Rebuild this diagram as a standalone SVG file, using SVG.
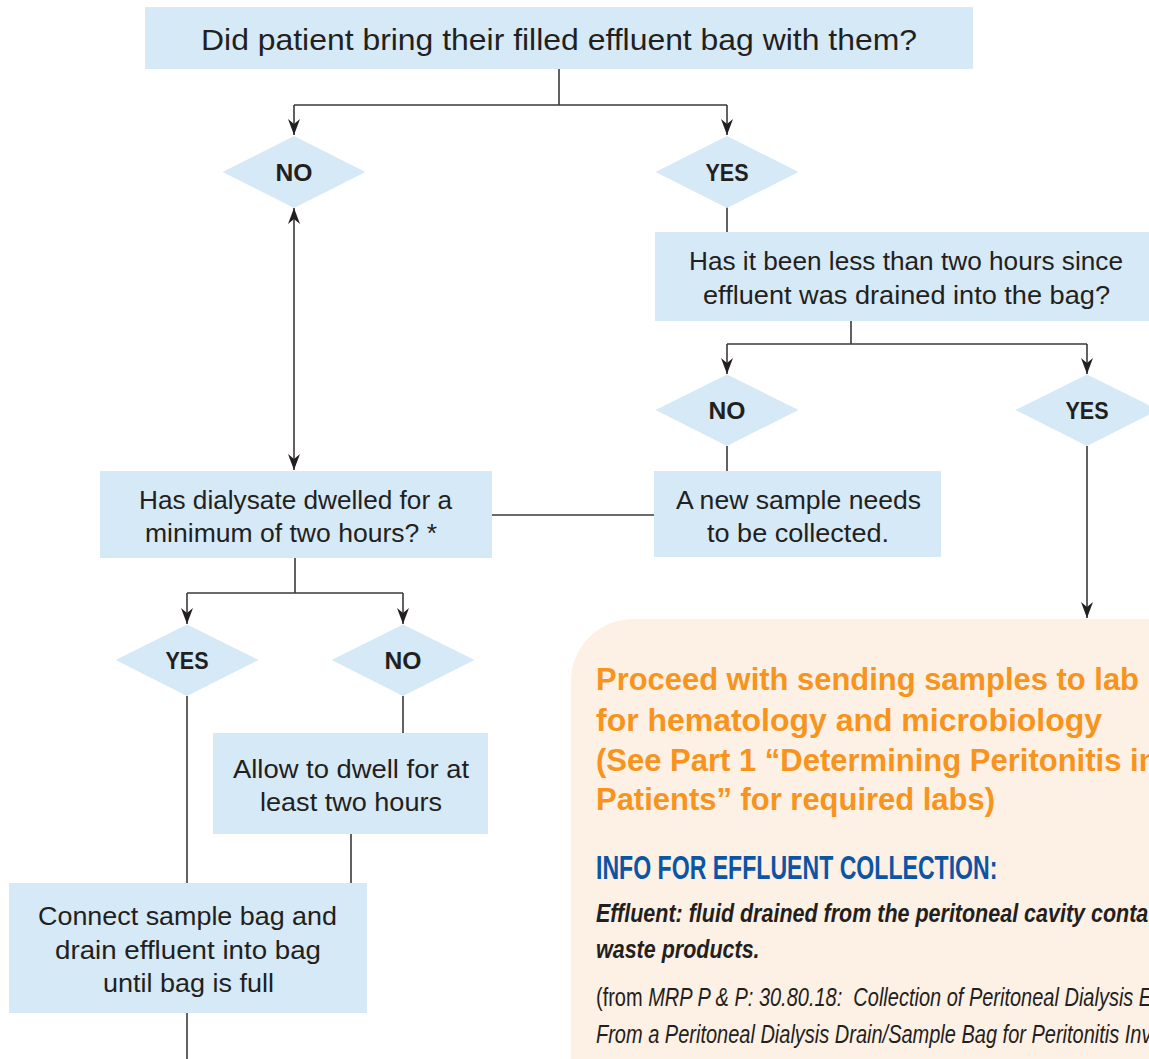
<svg xmlns="http://www.w3.org/2000/svg" width="1149" height="1059" viewBox="0 0 1149 1059">
<style>
.box{fill:#d6e9f7}
.dia{fill:#d6e9f7}
.t{font-family:"Liberation Sans",Arial,sans-serif;font-size:26px;fill:#231f20}
.lbl{font-family:"Liberation Sans",Arial,sans-serif;font-size:24px;font-weight:bold;fill:#231f20;text-anchor:middle}
.con{fill:none;stroke:#3a3a3a;stroke-width:1.6}
.arr{marker-end:url(#ah)}
.or{font-family:"Liberation Sans",Arial,sans-serif;font-size:31px;font-weight:bold;fill:#f7941d}
.hd{font-family:"Liberation Sans",Arial,sans-serif;font-size:33px;font-weight:bold;fill:#0c55a4}
.bi{font-family:"Liberation Sans",Arial,sans-serif;font-size:25px;font-weight:bold;font-style:italic;fill:#231f20}
.it{font-family:"Liberation Sans",Arial,sans-serif;font-size:25px;font-style:italic;fill:#231f20;white-space:pre}
</style>
<defs>
<marker id="ah" viewBox="-16 -6 16 12" refX="0" refY="0" markerWidth="16" markerHeight="12" markerUnits="userSpaceOnUse" orient="auto-start-reverse">
<path d="M0,0 L-16,-6 L-11,0 L-16,6 Z" fill="#231f20"/>
</marker>
</defs>
<rect width="1149" height="1059" fill="#ffffff"/>

<g id="info-panel">
<path d="M571,1059 V681 A62,62 0 0 1 633,619 H1149 V1059 Z" fill="#fdf0e4"/>
<text class="or" x="596" y="690" textLength="543" lengthAdjust="spacingAndGlyphs">Proceed with sending samples to lab</text>
<text class="or" x="596" y="731" textLength="506" lengthAdjust="spacingAndGlyphs">for hematology and microbiology</text>
<text class="or" x="596" y="771">(See Part 1 “Determining Peritonitis in</text>
<text class="or" x="596" y="810" textLength="399" lengthAdjust="spacingAndGlyphs">Patients” for required labs)</text>
<text class="hd" transform="translate(596,879) scale(0.70,1)">INFO FOR EFFLUENT COLLECTION:</text>
<text class="bi" transform="translate(596,922) scale(0.86,1)">Effluent: fluid drained from the peritoneal cavity conta</text>
<text class="bi" transform="translate(596,958) scale(0.86,1)">waste products.</text>
<text class="it" transform="translate(596,1006) scale(0.8,1)"><tspan font-style="normal">(from </tspan>MRP P &amp; P: 30.80.18:  Collection of Peritoneal Dialysis Ef</text>
<text class="it" transform="translate(596,1043) scale(0.8,1)">From a Peritoneal Dialysis Drain/Sample Bag for Peritonitis Inv</text>
</g>

<g id="connectors">
<path class="con" d="M559,69 V105 M294,105 H727"/>
<path class="con arr" d="M294,105 V135"/>
<path class="con arr" d="M727,105 V135"/>
<path class="con" d="M294,208 V470" marker-start="url(#ah)" marker-end="url(#ah)"/>
<path class="con" d="M727,207 V232"/>
<path class="con" d="M851,321 V344 M727,344 H1087"/>
<path class="con arr" d="M727,344 V374"/>
<path class="con arr" d="M1087,344 V374"/>
<path class="con" d="M727,446 V471"/>
<path class="con" d="M654,515 H492"/>
<path class="con arr" d="M1087,446 V618"/>
<path class="con" d="M295,558 V593 M187,593 H403"/>
<path class="con arr" d="M187,593 V624"/>
<path class="con arr" d="M403,593 V624"/>
<path class="con" d="M187,696 V883"/>
<path class="con" d="M403,696 V733"/>
<path class="con" d="M351,834 V883"/>
<path class="con" d="M187,1013 V1059"/>
</g>

<g id="q-bag">
<rect class="box" x="145" y="7" width="828" height="62"/>
<text class="t" x="201" y="50" textLength="716" lengthAdjust="spacingAndGlyphs" style="font-size:30px">Did patient bring their filled effluent bag with them?</text>
</g>

<g id="d-no-1">
<polygon class="dia" points="222.5,172 294,136 365.5,172 294,208"/>
<text class="lbl" x="294" y="181" textLength="37" lengthAdjust="spacingAndGlyphs">NO</text>
</g>
<g id="d-yes-1">
<polygon class="dia" points="655.5,172 727,136 798.5,172 727,208"/>
<text class="lbl" x="727" y="181" textLength="43" lengthAdjust="spacingAndGlyphs">YES</text>
</g>

<g id="q-time">
<rect class="box" x="655" y="232" width="500" height="89"/>
<text class="t" x="689" y="270" textLength="434" lengthAdjust="spacingAndGlyphs">Has it been less than two hours since</text>
<text class="t" x="703" y="304" textLength="407" lengthAdjust="spacingAndGlyphs">effluent was drained into the bag?</text>
</g>

<g id="d-no-2">
<polygon class="dia" points="655.5,410 727,374.5 798.5,410 727,446"/>
<text class="lbl" x="727" y="419" textLength="37" lengthAdjust="spacingAndGlyphs">NO</text>
</g>
<g id="d-yes-2">
<polygon class="dia" points="1015.5,410 1087,374.5 1158.5,410 1087,446"/>
<text class="lbl" x="1087" y="419" textLength="43" lengthAdjust="spacingAndGlyphs">YES</text>
</g>

<g id="new-sample">
<rect class="box" x="654" y="471" width="287" height="86"/>
<text class="t" x="676" y="509" textLength="245" lengthAdjust="spacingAndGlyphs">A new sample needs</text>
<text class="t" x="707" y="542" textLength="182" lengthAdjust="spacingAndGlyphs">to be collected.</text>
</g>

<g id="q-dwell">
<rect class="box" x="100" y="471" width="392" height="87"/>
<text class="t" x="139" y="509" textLength="313" lengthAdjust="spacingAndGlyphs">Has dialysate dwelled for a</text>
<text class="t" x="145" y="542" textLength="292" lengthAdjust="spacingAndGlyphs">minimum of two hours? *</text>
</g>

<g id="d-yes-3">
<polygon class="dia" points="115.5,660 187,624.5 258.5,660 187,696"/>
<text class="lbl" x="187" y="669" textLength="43" lengthAdjust="spacingAndGlyphs">YES</text>
</g>
<g id="d-no-3">
<polygon class="dia" points="331.5,660 403,624.5 474.5,660 403,696"/>
<text class="lbl" x="403" y="669" textLength="37" lengthAdjust="spacingAndGlyphs">NO</text>
</g>

<g id="allow-dwell">
<rect class="box" x="213" y="733" width="275" height="101"/>
<text class="t" x="233" y="778" textLength="236" lengthAdjust="spacingAndGlyphs">Allow to dwell for at</text>
<text class="t" x="260" y="811" textLength="182" lengthAdjust="spacingAndGlyphs">least two hours</text>
</g>

<g id="connect-bag">
<rect class="box" x="9" y="883" width="358" height="130"/>
<text class="t" x="38" y="925" textLength="299" lengthAdjust="spacingAndGlyphs">Connect sample bag and</text>
<text class="t" x="55" y="959" textLength="266" lengthAdjust="spacingAndGlyphs">drain effluent into bag</text>
<text class="t" x="103" y="992" textLength="171" lengthAdjust="spacingAndGlyphs">until bag is full</text>
</g>
</svg>
